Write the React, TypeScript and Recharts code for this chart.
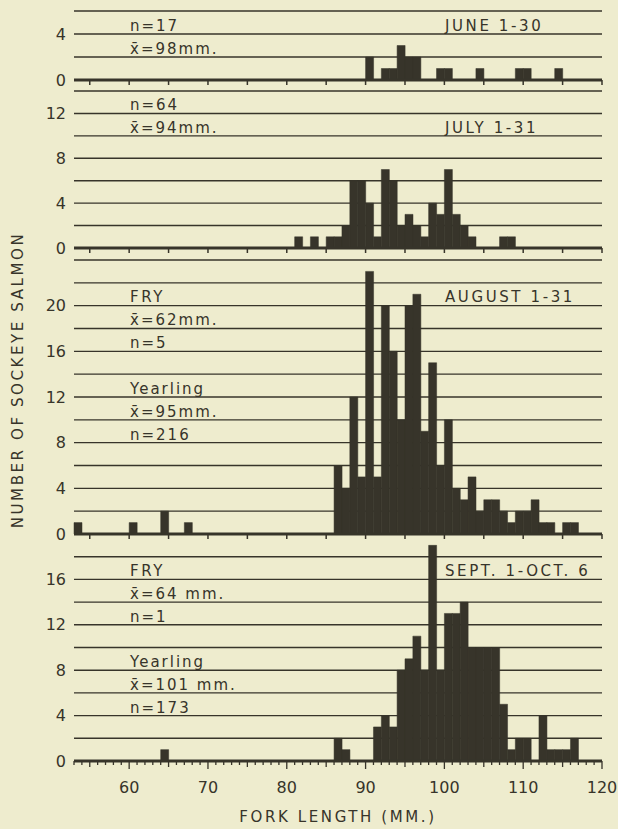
import React from "react";
import { BarChart, Bar, XAxis, YAxis, CartesianGrid } from "recharts";

// fork length (mm, start of 1-mm class) and number of fish in that class
const juneLengths = [90, 92, 93, 94, 95, 96, 99, 100, 104, 109, 110, 114];
const juneCounts = [2, 1, 1, 3, 2, 2, 1, 1, 1, 1, 1, 1];

const julyLengths = [81, 83, 85, 86, 87, 88, 89, 90, 91, 92, 93, 94, 95, 96, 97, 98, 99, 100, 101, 102, 103, 107, 108];
const julyCounts = [1, 1, 1, 1, 2, 6, 6, 4, 1, 7, 6, 2, 3, 2, 1, 4, 3, 7, 3, 2, 1, 1, 1];

const augFryLengths = [53, 60, 64, 67];
const augFryCounts = [1, 1, 2, 1];
const augYearlingLengths = [86, 87, 88, 89, 90, 91, 92, 93, 94, 95, 96, 97, 98, 99, 100, 101, 102, 103, 104, 105, 106, 107, 108, 109, 110, 111, 112, 113, 115, 116];
const augYearlingCounts = [6, 4, 12, 5, 23, 5, 20, 16, 10, 20, 21, 9, 15, 6, 10, 4, 3, 5, 2, 3, 3, 2, 1, 2, 2, 3, 1, 1, 1, 1];

const septFryLengths = [64];
const septFryCounts = [1];
const septYearlingLengths = [86, 87, 91, 92, 93, 94, 95, 96, 97, 98, 99, 100, 101, 102, 103, 104, 105, 106, 107, 108, 109, 110, 112, 113, 114, 115, 116];
const septYearlingCounts = [2, 1, 3, 4, 3, 8, 9, 11, 8, 19, 8, 13, 13, 14, 10, 10, 10, 10, 5, 1, 2, 2, 4, 1, 1, 1, 2];

const xLabels = [60, 70, 80, 90, 100, 110, 120];
const X_MIN = 53;
const X_MAX = 120;

const INK = "#37342a";
const PAPER = "#eeecce";
const FONT = "'DejaVu Sans', sans-serif";

// one row per 1-mm class, bar centred in the middle of its class
function buildTable(series: { key: string; lengths: number[]; counts: number[] }[]) {
  const rows: any[] = [];
  for (let mm = X_MIN; mm < X_MAX; mm++) {
    const row: any = { mid: mm + 0.5 };
    series.forEach((s) => {
      const i = s.lengths.indexOf(mm);
      row[s.key] = i >= 0 ? s.counts[i] : 0;
    });
    rows.push(row);
  }
  return rows;
}

const juneData = buildTable([{ key: "all", lengths: juneLengths, counts: juneCounts }]);
const julyData = buildTable([{ key: "all", lengths: julyLengths, counts: julyCounts }]);
const augData = buildTable([
  { key: "fry", lengths: augFryLengths, counts: augFryCounts },
  { key: "yearling", lengths: augYearlingLengths, counts: augYearlingCounts },
]);
const septData = buildTable([
  { key: "fry", lengths: septFryLengths, counts: septFryCounts },
  { key: "yearling", lengths: septYearlingLengths, counts: septYearlingCounts },
]);

const fiveTicks: number[] = [];
for (let v = 55; v <= X_MAX; v += 5) fiveTicks.push(v);
const mmTicks: number[] = [];
for (let v = X_MIN; v <= X_MAX; v++) mmTicks.push(v);

const evenTicks = (max: number) => {
  const t: number[] = [];
  for (let v = 0; v <= max; v += 2) t.push(v);
  return t;
};

const TopTick = (props: any) => {
  const { x, y } = props;
  return <line x1={x} x2={x} y1={y} y2={y + 5} stroke={INK} strokeWidth={1.5} />;
};

const BottomTick = (props: any) => {
  const { x, y, payload } = props;
  const v = payload.value;
  const len = v % 10 === 0 ? 8 : v % 5 === 0 ? 6 : 4;
  return (
    <g>
      <line x1={x} x2={x} y1={y} y2={y + len} stroke={INK} strokeWidth={1.3} />
      {xLabels.includes(v) && (
        <text x={x} y={y + 32} textAnchor="middle" fontSize={16} fill={INK} fontFamily={FONT}>
          {v}
        </text>
      )}
    </g>
  );
};

interface PanelProps {
  top: number;
  bottom: number;
  yMax: number;
  yTicks: number[];
  labelMax: number;
  data: any[];
  keys: string[];
  last?: boolean;
}

function Panel({ top, bottom, yMax, yTicks, labelMax, data, keys, last }: PanelProps) {
  const mt = 4;
  const xh = last ? 44 : 12;
  const h = mt + (bottom - top) + xh;
  return (
    <div style={{ position: "absolute", left: 0, top: top - mt }}>
      <BarChart
        width={618}
        height={h}
        data={data}
        margin={{ top: mt, right: 16, bottom: 0, left: 0 }}
        barCategoryGap={0}
        barGap={0}
      >
        <CartesianGrid horizontal vertical={false} stroke={INK} strokeWidth={1.4} />
        <XAxis
          dataKey="mid"
          type="number"
          domain={[X_MIN, X_MAX]}
          ticks={last ? mmTicks : fiveTicks}
          interval={0}
          height={xh}
          tickSize={0}
          tickMargin={0}
          tickLine={false}
          axisLine={{ stroke: INK, strokeWidth: 3 }}
          tick={last ? <BottomTick /> : <TopTick />}
        />
        <YAxis
          type="number"
          domain={[0, yMax]}
          ticks={yTicks}
          interval={0}
          width={74}
          axisLine={false}
          tickLine={false}
          tick={{ fill: INK, fontSize: 16, fontFamily: FONT }}
          tickFormatter={(v: number) => (v % 4 === 0 && v <= labelMax ? String(v) : "")}
        />
        {keys.map((k) => (
          <Bar key={k} dataKey={k} stackId="n" fill={INK} stroke={INK} strokeWidth={0.5} isAnimationActive={false} />
        ))}
      </BarChart>
    </div>
  );
}

const noteStyle: React.CSSProperties = { fontSize: 15, letterSpacing: 2, fill: INK, fontFamily: FONT };
const titleStyle: React.CSSProperties = { fontSize: 15, letterSpacing: 2.6, fill: INK, fontFamily: FONT };

export default function App() {
  return (
    <div
      style={{
        position: "absolute",
        left: 0,
        top: 0,
        width: 618,
        height: 829,
        background: PAPER,
        fontFamily: FONT,
        overflow: "hidden",
      }}
    >
      <Panel top={11} bottom={80} yMax={6} yTicks={evenTicks(6)} labelMax={4} data={juneData} keys={["all"]} />
      <Panel top={91} bottom={248} yMax={14} yTicks={evenTicks(14)} labelMax={12} data={julyData} keys={["all"]} />
      <Panel top={260} bottom={534} yMax={24} yTicks={evenTicks(24)} labelMax={20} data={augData} keys={["fry", "yearling"]} />
      <Panel top={534} bottom={761} yMax={20} yTicks={evenTicks(18)} labelMax={16} data={septData} keys={["fry", "yearling"]} last />

      <svg width={618} height={829} style={{ position: "absolute", left: 0, top: 0, pointerEvents: "none" }}>
        {/* June */}
        <text x={130} y={31} style={noteStyle}>n=17</text>
        <text x={130} y={54} style={noteStyle}>x̄=98mm.</text>
        <text x={445} y={31} style={titleStyle}>JUNE 1-30</text>
        {/* July */}
        <text x={130} y={110} style={noteStyle}>n=64</text>
        <text x={130} y={133} style={noteStyle}>x̄=94mm.</text>
        <text x={445} y={133} style={titleStyle}>JULY 1-31</text>
        {/* August */}
        <text x={130} y={302} style={titleStyle}>FRY</text>
        <text x={130} y={325} style={noteStyle}>x̄=62mm.</text>
        <text x={130} y={348} style={noteStyle}>n=5</text>
        <text x={130} y={394} style={noteStyle}>Yearling</text>
        <text x={130} y={417} style={noteStyle}>x̄=95mm.</text>
        <text x={130} y={440} style={noteStyle}>n=216</text>
        <text x={445} y={302} style={titleStyle}>AUGUST 1-31</text>
        {/* September */}
        <text x={130} y={576} style={titleStyle}>FRY</text>
        <text x={130} y={599} style={noteStyle}>x̄=64 mm.</text>
        <text x={130} y={622} style={noteStyle}>n=1</text>
        <text x={130} y={667} style={noteStyle}>Yearling</text>
        <text x={130} y={690} style={noteStyle}>x̄=101 mm.</text>
        <text x={130} y={713} style={noteStyle}>n=173</text>
        <text x={445} y={576} style={titleStyle}>SEPT. 1-OCT. 6</text>
        {/* axis titles */}
        <text transform="rotate(-90)" x={-380} y={23} textAnchor="middle" style={titleStyle}>
          NUMBER OF SOCKEYE SALMON
        </text>
        <text x={338} y={822} textAnchor="middle" style={titleStyle}>
          FORK LENGTH (MM.)
        </text>
      </svg>
    </div>
  );
}
